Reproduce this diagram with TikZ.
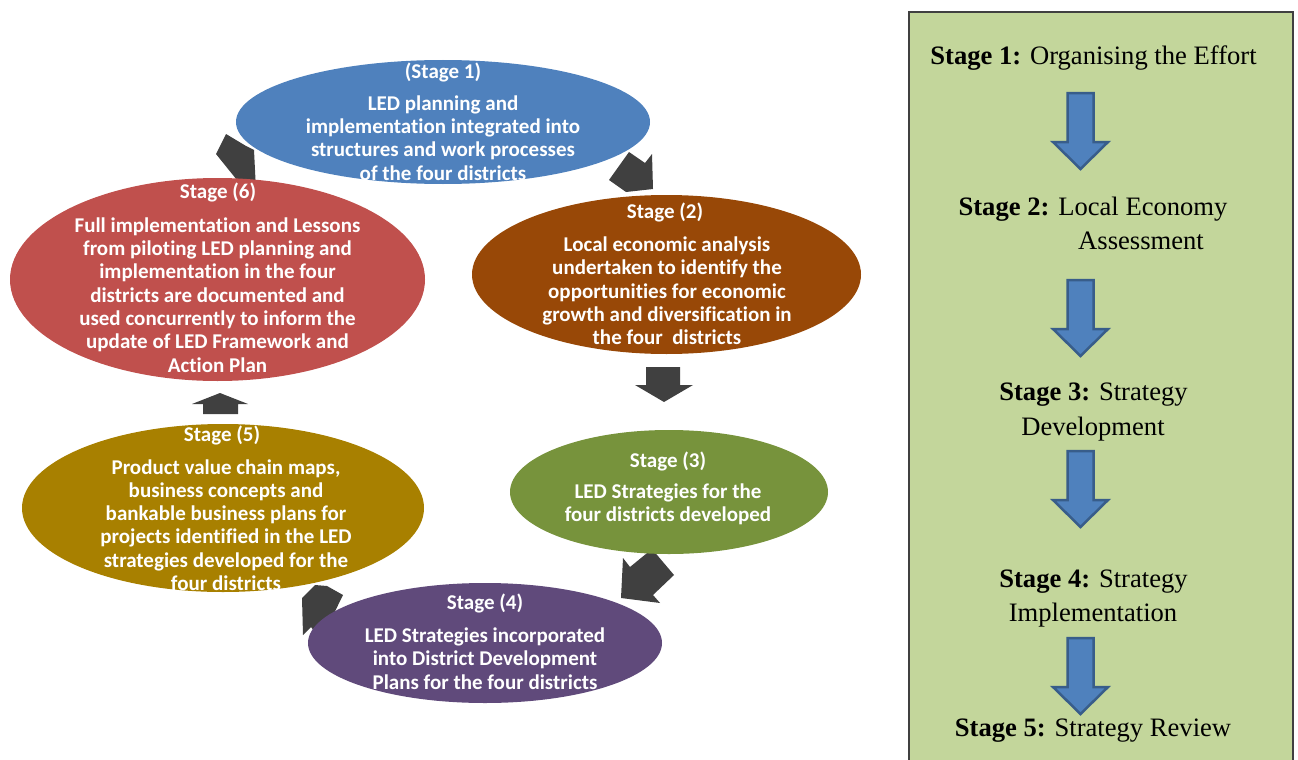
\documentclass[tikz,border=0pt]{standalone}
\usepackage{fontspec}
\setmainfont{Liberation Serif}
\newfontfamily\calfont[Ligatures={NoCommon,NoContextual}]{Carlito}
\usetikzlibrary{shapes.geometric}
\definecolor{cblue}{HTML}{4F81BD}
\definecolor{cbrown}{HTML}{984807}
\definecolor{cgreen}{HTML}{77933C}
\definecolor{cpurple}{HTML}{604A7B}
\definecolor{cgold}{HTML}{A88000}
\definecolor{cred}{HTML}{C0504D}
\definecolor{cgray}{HTML}{404040}
\definecolor{cpanel}{HTML}{C3D69B}
\definecolor{cblueline}{HTML}{385D8A}
\tikzset{
  ell/.style={ellipse, inner sep=0pt, draw=none},
  stxt/.style={text=white, font=\calfont\bfseries\fontsize{21}{23.3}\selectfont, align=center, inner sep=0pt},
  rtxt/.style={text=black, font=\fontsize{26.6}{34}\selectfont, inner sep=0pt, anchor=base},
  garrow/.style={fill=cgray, draw=none},
  barrow/.style={fill=cblue, draw=cblueline, line width=2.5pt, line join=miter},
  barrowpic/.pic={\draw[barrow] (-13,0)--(13,0)--(13,49)--(27.5,49)--(0,76)--(-27.5,49)--(-13,49)--cycle;}
}
\begin{document}
\begin{tikzpicture}[x=1pt,y=-1pt]
\useasboundingbox (0,0) rectangle (1298,760);
\clip (0,0) rectangle (1298,760);

% grey block arrows (behind the ellipses)
\path[garrow] (629,152) -- (645,163) -- (652,154) -- (653,189) -- (626,192) -- (609,180) -- cycle;
\path[garrow] (646,367) -- (680,367) -- (680,385) -- (693,385) -- (664,402) -- (635,385) -- (646,385) -- cycle;
\path[garrow] (652,549) -- (674,575) -- (653,595) -- (660,603) -- (621,598) -- (623,558) -- (630,567) -- cycle;
\path[garrow] (302,598) -- (315,585) -- (327,586) -- (343,595) -- (321,640) -- (311,627) -- (303,635) -- cycle;
\path[garrow] (203,414) -- (203,404) -- (192,404) -- (220,393) -- (248,404) -- (238,404) -- (238,414) -- cycle;
\path[garrow] (226,134) -- (246,146) -- (254,150) -- (256,190) -- (245,190) -- (216,154) -- cycle;

% ellipses
\node[ell, fill=cblue, minimum width=414pt, minimum height=124pt] (e1) at (443,122) {};
\node[ell, fill=cbrown, minimum width=389pt, minimum height=159pt] (e2) at (666.5,274.5) {};
\node[ell, fill=cgreen, minimum width=318pt, minimum height=124pt] (e3) at (669,492) {};
\node[ell, fill=cpurple, minimum width=354pt, minimum height=120pt] (e4) at (485,643) {};
\node[ell, fill=cgold, minimum width=402pt, minimum height=168pt] (e5) at (223,508) {};
\node[ell, fill=cred, minimum width=415pt, minimum height=203pt] (e6) at (217.5,279.5) {};

% ellipse texts
\node[stxt] (h1) at (443,72) {(Stage 1)};
\node[stxt] (t1) at (443,138) {LED planning and\\implementation integrated into\\structures and work processes\\of the four districts};
\node[stxt] (h2) at (665,212) {Stage (2)};
\node[stxt] (t2) at (667,291) {Local economic analysis\\undertaken to identify the\\opportunities for economic\\growth and diversification in\\the four\ \ districts};
\node[stxt] (h3) at (668,461) {Stage (3)};
\node[stxt] (t3) at (668,504.5) {LED Strategies for the\\four districts developed};
\node[stxt] (h4) at (485,603) {Stage (4)};
\node[stxt] (t4) at (485,658.5) {LED Strategies incorporated\\into District Development\\Plans for the four districts};
\node[stxt] (h5) at (222,435) {Stage (5)};
\node[stxt] (t5) at (226,525) {Product value chain maps,\\business concepts and\\bankable business plans for\\projects identified in the LED\\strategies developed for the\\four districts};
\node[stxt] (h6) at (218,192) {Stage (6)};
\node[stxt] (t6) at (217.5,295) {Full implementation and Lessons\\from piloting LED planning and\\implementation in the four\\districts are documented and\\used concurrently to inform the\\update of LED Framework and\\Action Plan};

% right panel
\path[fill=cpanel, draw=cgray, line width=1.2pt] (909,12) rectangle (1293,790);
\node[rtxt] (s1) at (1093.5,65) {\textbf{Stage 1:} Organising the Effort};
\pic at (1080.5,93) {barrowpic};
\node[rtxt] (s2) at (1093,215) {\textbf{Stage 2:} Local Economy};
\node[rtxt] (s2b) at (1141,249) {Assessment};
\pic at (1080.5,280) {barrowpic};
\node[rtxt] (s3) at (1093.5,400) {\textbf{Stage 3:} Strategy};
\node[rtxt] (s3b) at (1093,435) {Development};
\pic at (1080.5,451) {barrowpic};
\node[rtxt] (s4) at (1093.5,587) {\textbf{Stage 4:} Strategy};
\node[rtxt] (s4b) at (1093,621) {Implementation};
\pic at (1080.5,638) {barrowpic};
\node[rtxt] (s5) at (1093,736) {\textbf{Stage 5:} Strategy Review};
\end{tikzpicture}
\end{document}
